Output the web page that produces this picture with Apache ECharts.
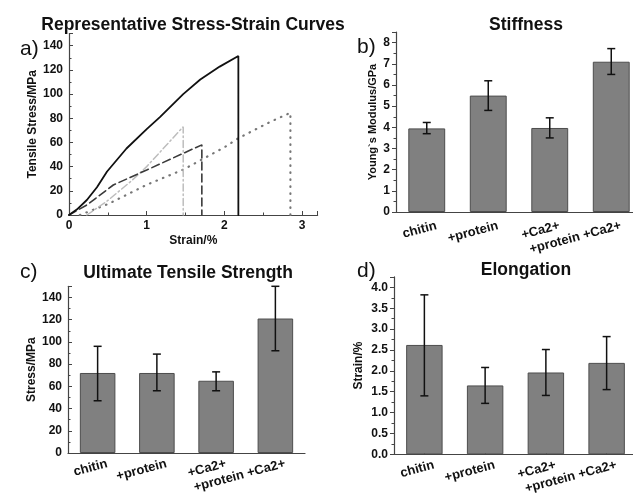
<!DOCTYPE html>
<html>
<head>
<meta charset="utf-8">
<script src="https://cdn.jsdelivr.net/npm/echarts@6/dist/echarts.min.js"></script>
<style>
html,body{margin:0;padding:0;background:#fff;}
#c{width:633px;height:493px;}
</style>
</head>
<body>
<div id="c"></div>
<script>
// ---- data ----
var categories = ['chitin', '+protein', '+Ca2+', '+protein +Ca2+'];

var modulus     = [3.95, 5.5, 3.97, 7.1];
var modulusLow  = [3.7, 4.8, 3.5, 6.5];
var modulusHigh = [4.23, 6.2, 4.45, 7.72];

var strength     = [72, 72, 65, 121];
var strengthLow  = [47, 56, 56, 92];
var strengthHigh = [96, 89, 73, 150];

var elongation     = [2.62, 1.65, 1.96, 2.19];
var elongationLow  = [1.4, 1.22, 1.41, 1.55];
var elongationHigh = [3.82, 2.08, 2.51, 2.82];

var curveSolid   = [[0,0],[0.1,4.5],[0.23,12.4],[0.36,23],[0.49,36],[0.74,55],[1,71],[1.17,81],[1.47,100],[1.69,112],[1.94,122.7],[2.18,131.5],[2.18,0]];
var curveDashDot = [[0.23,0],[0.5,12],[0.8,28],[1,40],[1.2,54],[1.47,73],[1.47,0]];
var curveDashed  = [[0,0],[0.23,8.3],[0.57,24.8],[1,37.2],[1.47,51],[1.71,58],[1.71,0]];
var curveDotted  = [[0.14,0],[0.5,9],[1,25],[1.47,37.5],[2,56],[2.18,63.5],[2.59,77],[2.85,84.5],[2.85,0]];

// ---- helpers ----
var FONT = 'Liberation Sans, Arial, sans-serif';
var AX = '#444';

function errData(lo, hi) {
  return lo.map(function (v, i) { return [i, v, hi[i]]; });
}
function errSeries(idx, lo, hi) {
  return {
    type: 'custom', xAxisIndex: idx, yAxisIndex: idx, z: 5,
    data: errData(lo, hi),
    encode: { x: 0, y: [1, 2] },
    renderItem: function (params, api) {
      var i = api.value(0);
      var a = api.coord([i, api.value(2)]);
      var b = api.coord([i, api.value(1)]);
      var h = 4;
      var st = { stroke: '#111', lineWidth: 1.5 };
      return { type: 'group', children: [
        { type: 'line', shape: { x1: a[0], y1: a[1], x2: b[0], y2: b[1] }, style: st },
        { type: 'line', shape: { x1: a[0]-h, y1: a[1], x2: a[0]+h, y2: a[1] }, style: st },
        { type: 'line', shape: { x1: b[0]-h, y1: b[1], x2: b[0]+h, y2: b[1] }, style: st }
      ]};
    }
  };
}
function barSeries(idx, vals) {
  return {
    type: 'bar', xAxisIndex: idx, yAxisIndex: idx, data: vals, barWidth: '60%',
    itemStyle: { color: '#808080', borderColor: '#4d4d4d', borderWidth: 1 },
    silent: true
  };
}
function catAxis(idx, margin) {
  return {
    type: 'category', gridIndex: idx, data: categories,
    axisLine: { lineStyle: { color: AX, width: 1.2 } },
    axisTick: { show: true, inside: true, alignWithLabel: true, interval: 0, length: 4, lineStyle: { color: AX } },
    axisLabel: { interval: 0, hideOverlap: false, rotate: 15, margin: margin, padding: [0, -10, 0, 0],
                 color: '#111', fontFamily: FONT, fontWeight: 'bold', fontSize: 13 }
  };
}
function valAxis(idx, max, interval, name, gap, nameSize, inside, fmt) {
  return {
    type: 'value', gridIndex: idx, min: 0, max: max, interval: interval,
    name: name, nameLocation: 'middle', nameGap: gap,
    nameTextStyle: { fontFamily: FONT, fontWeight: 'bold', fontSize: nameSize, color: '#111' },
    splitLine: { show: false },
    axisLine: { show: true, lineStyle: { color: AX, width: 1.2 } },
    axisTick: { show: true, inside: inside, length: 4, lineStyle: { color: AX } },
    minorTick: { show: true, splitNumber: 2, length: 2.5, lineStyle: { color: AX } },
    axisLabel: { showMaxLabel: false, color: '#111', fontFamily: FONT, fontWeight: 'bold', fontSize: 12, margin: 6,
                 formatter: fmt || null }
  };
}
function lineSeries(data, color, type, width) {
  return {
    type: 'line', xAxisIndex: 0, yAxisIndex: 0, data: data, symbol: 'none', smooth: false,
    lineStyle: { color: color, width: width, type: type, cap: 'round' }, silent: true
  };
}

var chart = echarts.init(document.getElementById('c'), null, { renderer: 'canvas' });
var titleStyle = { fontFamily: FONT, fontWeight: 'bold', fontSize: 17.5, color: '#111' };
var panelStyle = { fontFamily: FONT, fontWeight: 'normal', fontSize: 21, color: '#111' };

chart.setOption({
  backgroundColor: '#fff',
  animation: false,
  title: [
    { text: 'Representative Stress-Strain Curves', left: 188, top: 11, textAlign: 'center', textStyle: titleStyle },
    { text: 'Stiffness', left: 521, top: 11, textAlign: 'center', textStyle: titleStyle },
    { text: 'Ultimate Tensile Strength', left: 183, top: 259, textAlign: 'center', textStyle: titleStyle },
    { text: 'Elongation', left: 521, top: 256, textAlign: 'center', textStyle: titleStyle },
    { text: 'a)', left: 15, top: 34, textStyle: panelStyle },
    { text: 'b)', left: 352, top: 32, textStyle: panelStyle },
    { text: 'c)', left: 15, top: 257, textStyle: panelStyle },
    { text: 'd)', left: 352, top: 256, textStyle: panelStyle }
  ],
  grid: [
    { left: 69, top: 33.6, width: 248.6, height: 181.4, outerBoundsMode: 'none', containLabel: false },
    { left: 396, top: 32.1, width: 246, height: 179.9, outerBoundsMode: 'none', containLabel: false },
    { left: 68, top: 286.3, width: 237, height: 166.7, outerBoundsMode: 'none', containLabel: false },
    { left: 394, top: 276.9, width: 243, height: 177.4, outerBoundsMode: 'none', containLabel: false }
  ],
  xAxis: [
    {
      type: 'value', gridIndex: 0, min: 0, max: 3.2, interval: 1,
      name: 'Strain/%', nameLocation: 'middle', nameGap: 20,
      nameTextStyle: { fontFamily: FONT, fontWeight: 'bold', fontSize: 12, color: '#111' },
      splitLine: { show: false },
      axisLine: { lineStyle: { color: AX, width: 1.2 } },
      axisTick: { show: true, inside: true, length: 4, lineStyle: { color: AX } },
      minorTick: { show: true, splitNumber: 2, length: 2.5, lineStyle: { color: AX } },
      axisLabel: { showMaxLabel: false, color: '#111', fontFamily: FONT, fontWeight: 'bold', fontSize: 12, margin: 5 }
    },
    catAxis(1, 16), catAxis(2, 13), catAxis(3, 13)
  ],
  yAxis: [
    valAxis(0, 150, 20, 'Tensile Stress/MPa', 28, 12, true),
    valAxis(1, 8.5, 1, 'Young`s Modulus/GPa', 18, 11, false),
    valAxis(2, 150, 20, 'Stress/MPa', 30, 12, true),
    valAxis(3, 4.25, 0.5, 'Strain/%', 29, 12, false, function (v) { return v.toFixed(1); })
  ],
  series: [
    lineSeries(curveDotted, '#777', [0.5, 6.5], 2.2),
    lineSeries(curveDashDot, '#bdbdbd', [7, 3, 1.5, 3], 1.5),
    lineSeries(curveDashed, '#3a3a3a', [8, 4], 1.6),
    lineSeries(curveSolid, '#111', 'solid', 1.8),
    barSeries(1, modulus), errSeries(1, modulusLow, modulusHigh),
    barSeries(2, strength), errSeries(2, strengthLow, strengthHigh),
    barSeries(3, elongation), errSeries(3, elongationLow, elongationHigh)
  ]
});
</script>
</body>
</html>
